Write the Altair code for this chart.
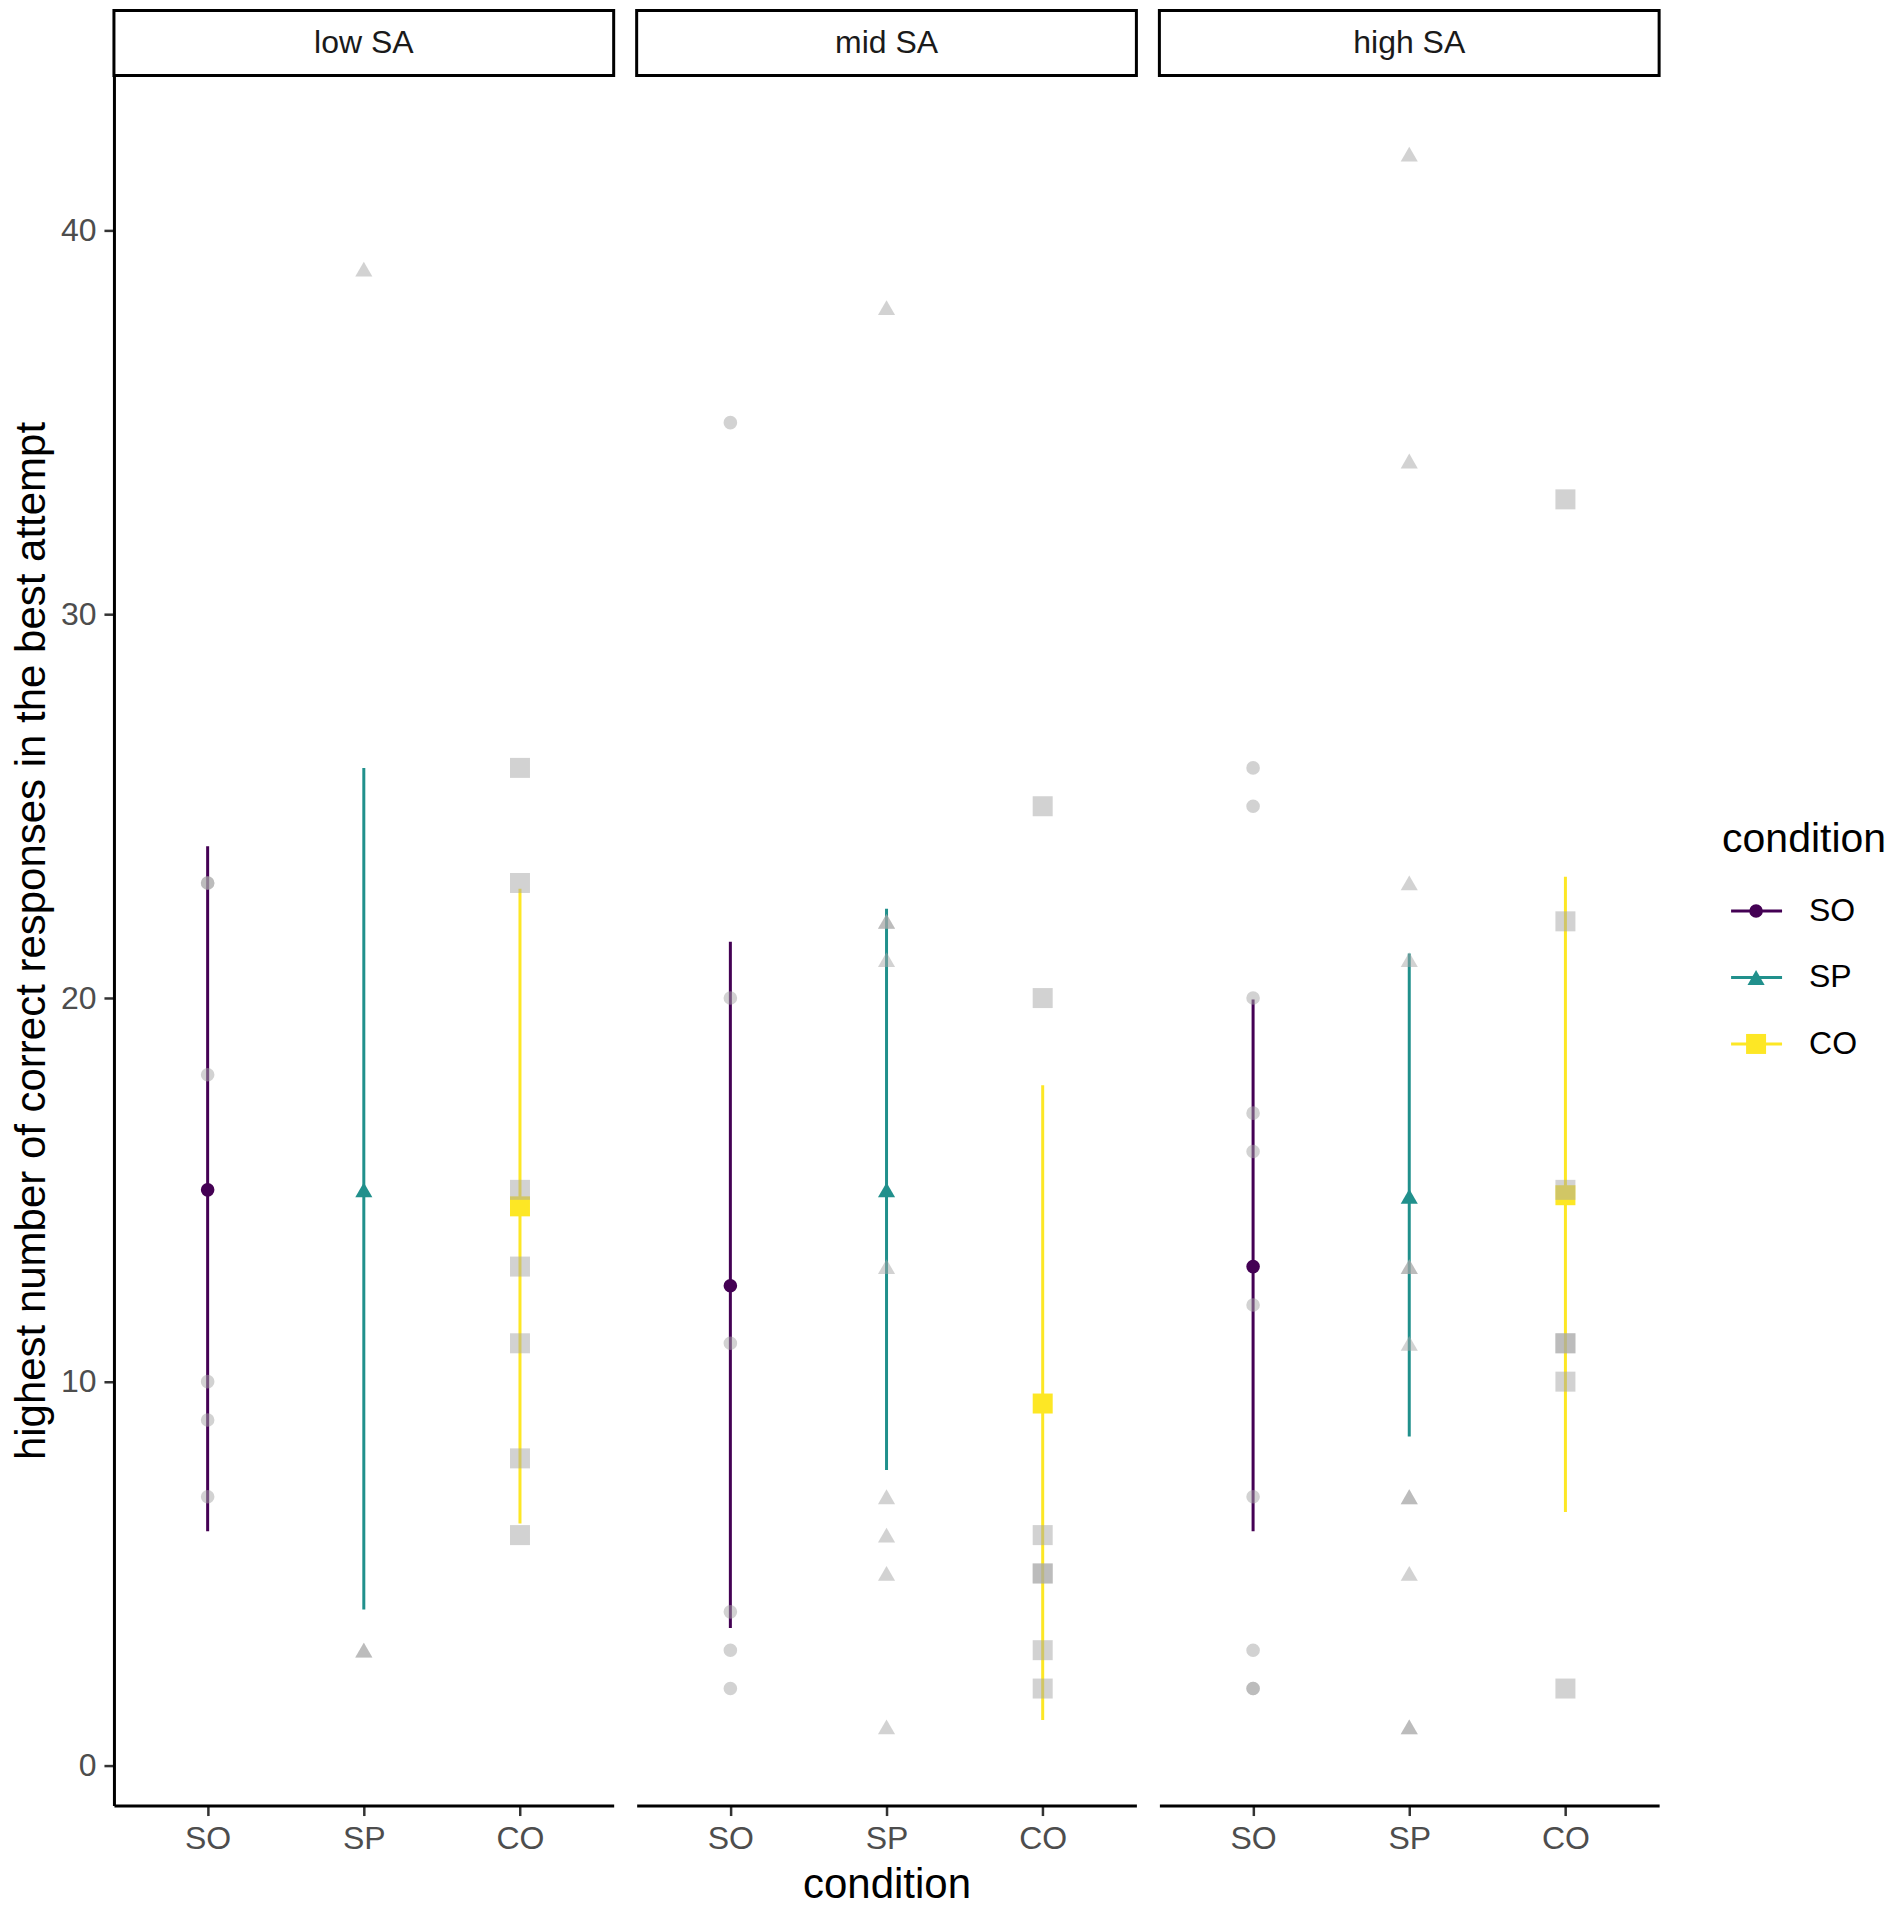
import altair as alt
import pandas as pd

FONT = "Liberation Sans"

SA_LEVELS = ["low SA", "mid SA", "high SA"]
CONDITIONS = ["SO", "SP", "CO"]
COLORS = ["#440154", "#21908C", "#FDE725"]
SHAPES = ["circle", "triangle-up", "square"]
SIZES = [185, 400, 240]

# individual scores (grey points)
low_SO = [23, 23, 18, 10, 9, 7]
low_SP = [39, 3, 3]
low_CO = [26, 23, 15, 13, 11, 8, 6]
mid_SO = [35, 20, 11, 4, 3, 2]
mid_SP = [38, 22, 22, 21, 13, 7, 6, 5, 1]
mid_CO = [25, 20, 6, 5, 5, 3, 2]
high_SO = [26, 25, 20, 17, 16, 12, 7, 3, 2, 2]
high_SP = [42, 34, 23, 21, 13, 13, 11, 7, 7, 5, 1, 1]
high_CO = [33, 22, 15, 11, 11, 10, 2]

# summaries, in condition order SO, SP, CO
low_mean = [15.0, 15.0, 14.57]
low_lower = [6.1, 4.06, 6.3]
low_upper = [23.96, 26.0, 22.85]
mid_mean = [12.5, 15.0, 9.43]
mid_lower = [3.58, 7.7, 1.18]
mid_upper = [21.47, 22.33, 17.73]
high_mean = [13.0, 14.83, 14.86]
high_lower = [6.1, 8.57, 6.6]
high_upper = [19.96, 21.16, 23.16]

RAW = {
    "low SA": [low_SO, low_SP, low_CO],
    "mid SA": [mid_SO, mid_SP, mid_CO],
    "high SA": [high_SO, high_SP, high_CO],
}
SUMM = {
    "low SA": (low_mean, low_lower, low_upper),
    "mid SA": (mid_mean, mid_lower, mid_upper),
    "high SA": (high_mean, high_lower, high_upper),
}

W = 500
H = 1731
STRIP = 65
Y_DOMAIN = [-1.05, 44.05]


def panel(i, sa):
    rows = []
    for cond, vals in zip(CONDITIONS, RAW[sa]):
        for v in vals:
            rows.append({"condition": cond, "score": v})
    raw_df = pd.DataFrame(rows)
    m, lo, up = SUMM[sa]
    sum_df = pd.DataFrame({"condition": CONDITIONS, "mean": m, "lower": lo, "upper": up})

    xaxis = alt.Axis(
        title="condition" if i == 1 else None,
        labelAngle=0,
        domain=True, domainColor="black", domainWidth=3,
        ticks=True, tickSize=10, tickWidth=2.5, tickColor="#333333",
        labelFontSize=32, labelColor="#4d4d4d", labelPadding=8,
        titleFontSize=42, titleColor="black", titleFontWeight="normal", titlePadding=10,
        grid=False,
    )
    x = alt.X("condition:N", scale=alt.Scale(type="point", domain=CONDITIONS, padding=0.6), axis=xaxis)
    yscale = alt.Scale(domain=Y_DOMAIN, nice=False, zero=False)
    if i == 0:
        yaxis = alt.Axis(
            title="highest number of correct responses in the best attempt",
            values=[0, 10, 20, 30, 40],
            domain=True, domainColor="black", domainWidth=3,
            ticks=True, tickSize=10, tickWidth=2.5, tickColor="#333333",
            labelFontSize=32, labelColor="#4d4d4d", labelPadding=8,
            titleFontSize=42, titleColor="black", titleFontWeight="normal", titlePadding=7,
            grid=False,
        )
    else:
        yaxis = None
    color = alt.Color("condition:N", scale=alt.Scale(domain=CONDITIONS, range=COLORS), legend=None)
    shape = alt.Shape("condition:N", scale=alt.Scale(domain=CONDITIONS, range=SHAPES), legend=None)
    size = alt.Size("condition:O", scale=alt.Scale(domain=CONDITIONS, range=SIZES), legend=None)

    rules = alt.Chart(sum_df).mark_rule(strokeWidth=3).encode(
        x=x, y=alt.Y("lower:Q", scale=yscale, axis=yaxis), y2="upper:Q", color=color
    )
    means = alt.Chart(sum_df).mark_point(filled=True, opacity=1).encode(
        x=x, y=alt.Y("mean:Q", scale=yscale, axis=yaxis), color=color, shape=shape, size=size
    )
    pts = alt.Chart(raw_df).mark_point(filled=True, color="#a6a6a6", opacity=0.5).encode(
        x=x, y=alt.Y("score:Q", scale=yscale, axis=yaxis), shape=shape, size=size
    )
    strip_df = pd.DataFrame({"SA": [sa]})
    strip_rect = alt.Chart(strip_df).mark_rect(fill="white", stroke="black", strokeWidth=3).encode(
        x=alt.value(0), x2=alt.value(W), y=alt.value(-STRIP), y2=alt.value(0)
    )
    strip_text = alt.Chart(strip_df).mark_text(
        font=FONT, fontSize=32, color="#1a1a1a", baseline="middle", align="center"
    ).encode(x=alt.value(W / 2), y=alt.value(-STRIP / 2), text="SA:N")

    layers = [rules, means, pts, strip_rect, strip_text]
    if i == 2:
        leg_df = pd.DataFrame({"condition": CONDITIONS})
        leg_y = alt.Y(
            "condition:N",
            scale=alt.Scale(type="point", domain=CONDITIONS, range=[836, 969], padding=0),
            axis=None,
        )
        leg_rule = alt.Chart(leg_df).mark_rule(strokeWidth=3).encode(
            x=alt.value(572), x2=alt.value(623), y=leg_y, color=color
        )
        leg_pt = alt.Chart(leg_df).mark_point(filled=True, opacity=1).encode(
            x=alt.value(597), y=leg_y, color=color, shape=shape, size=size
        )
        leg_txt = alt.Chart(leg_df).mark_text(
            font=FONT, fontSize=32, color="black", align="left", baseline="middle"
        ).encode(x=alt.value(650), y=leg_y, text="condition:N")
        leg_title = alt.Chart(pd.DataFrame({"t": ["condition"]})).mark_text(
            font=FONT, fontSize=41, color="black", align="left", baseline="middle"
        ).encode(x=alt.value(563), y=alt.value(765), text="t:N")
        layers += [leg_rule, leg_pt, leg_txt, leg_title]
        return alt.layer(*layers).properties(width=W, height=H).resolve_scale(y="independent")
    return alt.layer(*layers).properties(width=W, height=H)


chart = alt.hconcat(*[panel(i, sa) for i, sa in enumerate(SA_LEVELS)], spacing=19).properties(
    padding={"left": 2, "top": 0, "right": 0, "bottom": 0}
).configure_view(stroke=None).configure_axis(labelFont=FONT, titleFont=FONT).configure_text(font=FONT)

chart.save("out.html", embed_options={"renderer": "svg", "actions": False})
